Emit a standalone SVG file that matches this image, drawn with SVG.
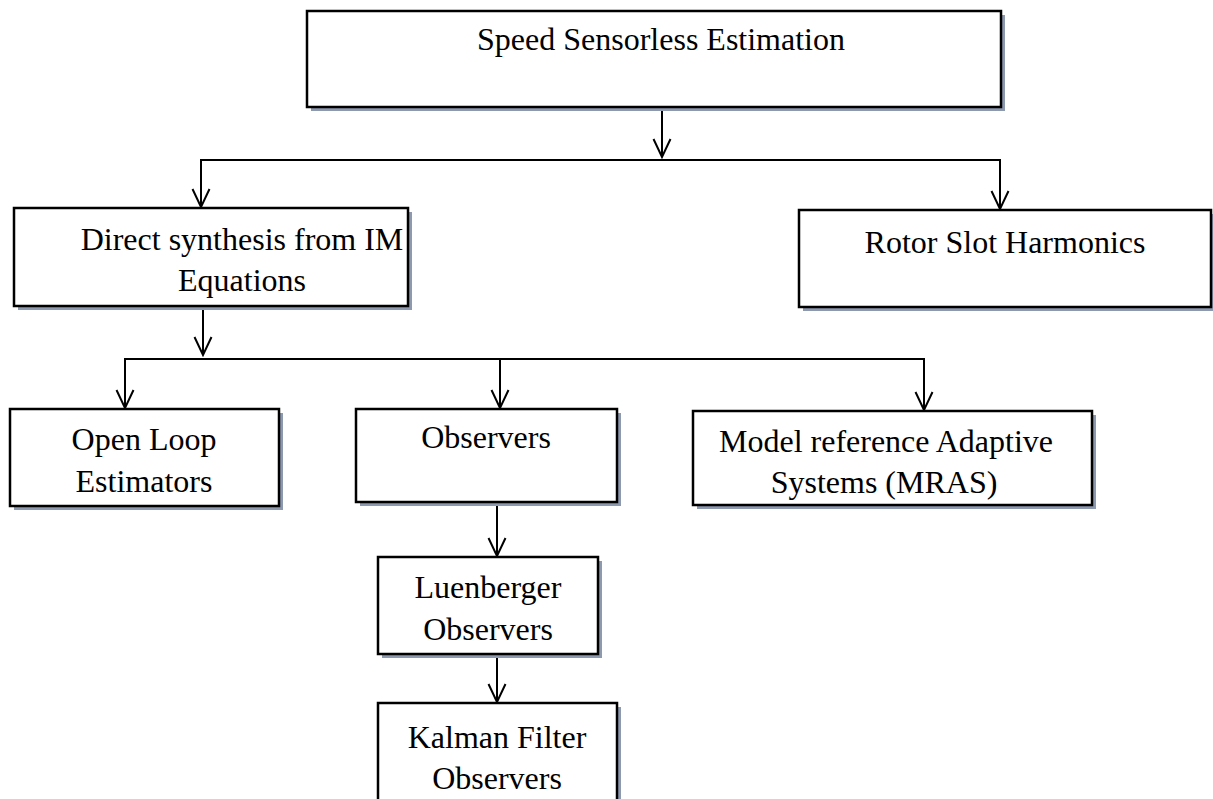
<svg xmlns="http://www.w3.org/2000/svg" width="1213" height="799" viewBox="0 0 1213 799">
<style>
.sh{fill:#8d99ae;stroke:none}
.bx{fill:#ffffff;stroke:#000000;stroke-width:2.5}
.t{font-family:"Liberation Serif","Times New Roman",serif;font-size:32px;fill:#000000;text-anchor:middle}
.ln{fill:none;stroke:#000000;stroke-width:2}
</style>
<defs>
<marker id="ah" markerUnits="userSpaceOnUse" markerWidth="22" markerHeight="22" viewBox="-20 -11 22 22" refX="0" refY="0" orient="auto">
<path d="M-18,-8.5 L0,0 L-18,8.5" fill="none" stroke="#000000" stroke-width="2"/>
</marker>
</defs>
<g id="connectors">
<line class="ln" x1="662" y1="110" x2="662" y2="157" marker-end="url(#ah)"/>
<polyline class="ln" points="201,208 201,160 1000,160 1000,209"/>
<line class="ln" x1="201" y1="170" x2="201" y2="207" marker-end="url(#ah)"/>
<line class="ln" x1="1000" y1="170" x2="1000" y2="209" marker-end="url(#ah)"/>
<line class="ln" x1="203" y1="308" x2="203" y2="355" marker-end="url(#ah)"/>
<polyline class="ln" points="125,408 125,359 924,359 924,410"/>
<line class="ln" x1="125" y1="370" x2="125" y2="408" marker-end="url(#ah)"/>
<line class="ln" x1="500" y1="359" x2="500" y2="408" marker-end="url(#ah)"/>
<line class="ln" x1="924" y1="370" x2="924" y2="410" marker-end="url(#ah)"/>
<line class="ln" x1="497" y1="504" x2="497" y2="556" marker-end="url(#ah)"/>
<line class="ln" x1="497" y1="656" x2="497" y2="702" marker-end="url(#ah)"/>
</g>
<g id="n-title">
<rect class="sh" x="311" y="15" width="694" height="96"/>
<rect class="bx" x="307" y="11" width="694" height="96"/>
<text class="t" x="661" y="50">Speed Sensorless Estimation</text>
</g>
<g id="n-direct">
<rect class="sh" x="18" y="212" width="394" height="98"/>
<rect class="bx" x="14" y="208" width="394" height="98"/>
<text class="t" x="242" y="250">Direct synthesis from IM</text>
<text class="t" x="242" y="291">Equations</text>
</g>
<g id="n-rotor">
<rect class="sh" x="803" y="214" width="420" height="97"/>
<rect class="bx" x="799" y="210" width="412" height="97"/>
<text class="t" x="1005" y="253">Rotor Slot Harmonics</text>
</g>
<g id="n-openloop">
<rect class="sh" x="14" y="413" width="269" height="97"/>
<rect class="bx" x="10" y="409" width="269" height="97"/>
<text class="t" x="144" y="450">Open Loop</text>
<text class="t" x="144" y="492">Estimators</text>
</g>
<g id="n-observers">
<rect class="sh" x="360" y="413" width="261" height="93"/>
<rect class="bx" x="356" y="409" width="261" height="93"/>
<text class="t" x="486" y="448">Observers</text>
</g>
<g id="n-mras">
<rect class="sh" x="697" y="415" width="399" height="94"/>
<rect class="bx" x="693" y="411" width="399" height="94"/>
<text class="t" x="886" y="452">Model reference Adaptive</text>
<text class="t" x="884" y="493">Systems (MRAS)</text>
</g>
<g id="n-luenberger">
<rect class="sh" x="382" y="561" width="220" height="97"/>
<rect class="bx" x="378" y="557" width="220" height="97"/>
<text class="t" x="488" y="598">Luenberger</text>
<text class="t" x="488" y="640">Observers</text>
</g>
<g id="n-kalman">
<rect class="sh" x="382" y="707" width="239" height="110"/>
<rect class="bx" x="378" y="703" width="239" height="110"/>
<text class="t" x="497" y="748">Kalman Filter</text>
<text class="t" x="497" y="789">Observers</text>
</g>
</svg>
